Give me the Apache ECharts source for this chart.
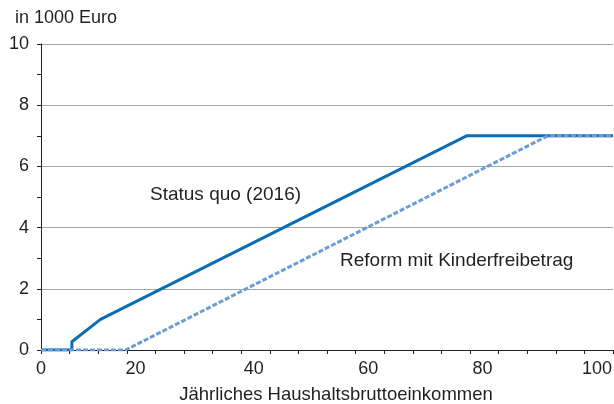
<!DOCTYPE html>
<html>
<head>
<meta charset="utf-8">
<script src="https://cdn.jsdelivr.net/npm/echarts@6/dist/echarts.min.js"></script>
<style>
  html, body { margin: 0; padding: 0; background: #fff; }
  #chart { width: 614px; height: 404px; }
</style>
</head>
<body>
<div id="chart"></div>
<script>
// income in 1000 Euro (x) vs. amount in 1000 Euro (y)
const statusQuo = [[0, 0], [5.4, 0], [5.4, 0.27], [10.4, 1.0], [74.4, 7.0], [100, 7.0]];
const reform = [[0, 0], [14.8, 0], [88.6, 7.0], [100, 7.0]];

const xTicks = [0, 20, 40, 60, 80, 100];
const yTicks = [0, 2, 4, 6, 8, 10];

const font = "'Liberation Sans', Arial, Helvetica, sans-serif";
const textColor = "#231f20";

const chart = echarts.init(document.getElementById("chart"));

const option = {
  animation: false,
  textStyle: { fontFamily: font, color: textColor },
  grid: {
    left: 41, right: 1, top: 44, bottom: 54,
    containLabel: false,
    outerBoundsMode: "none",
  },
  title: {
    text: "in 1000 Euro",
    left: 10,
    top: 4,
    textStyle: { fontFamily: font, fontSize: 18, fontWeight: "normal", color: textColor },
  },
  xAxis: {
    type: "value",
    min: xTicks[0],
    max: xTicks[xTicks.length - 1],
    interval: 20,
    name: "Jährliches Haushaltsbruttoeinkommen",
    nameLocation: "middle",
    nameGap: 35,
    nameTextStyle: { fontSize: 18.5, color: textColor, padding: [0, 0, 0, 18] },
    axisLine: { lineStyle: { color: "#231f20", width: 1 } },
    axisTick: { show: true, length: 4, lineStyle: { color: "#231f20" } },
    minorTick: { show: true, splitNumber: 4, length: 4, lineStyle: { color: "#231f20" } },
    splitLine: { show: false },
    axisLabel: {
      margin: 10,
      fontSize: 18,
      color: textColor,
      formatter: (v) => (v === 0 ? "{z|0}" : v === 20 ? "{t|20}" : "{s|" + v + "}"),
      rich: {
        z: { fontSize: 18, fontFamily: font, color: textColor },
        t: { fontSize: 18, fontFamily: font, color: textColor, padding: [0, 40, 0, 0] },
        s: { fontSize: 18, fontFamily: font, color: textColor, padding: [0, 32, 0, 0] },
      },
    },
  },
  yAxis: {
    type: "value",
    min: yTicks[0],
    max: yTicks[yTicks.length - 1],
    interval: 2,
    axisLine: { show: true, lineStyle: { color: "#231f20", width: 1 } },
    axisTick: { show: true, length: 4, lineStyle: { color: "#231f20" } },
    minorTick: { show: true, splitNumber: 2, length: 4, lineStyle: { color: "#231f20" } },
    splitLine: { show: true, lineStyle: { color: "#a6a6a6", width: 1 } },
    axisLabel: { margin: 12, fontSize: 18, color: textColor },
  },
  series: [
    {
      name: "Status quo (2016)",
      type: "line",
      data: statusQuo,
      symbol: "none",
      lineStyle: { color: "#0b6db5", width: 3 },
      z: 3,
    },
    {
      name: "Reform mit Kinderfreibetrag",
      type: "line",
      data: reform,
      symbol: "none",
      lineStyle: { color: "#6b9dd7", width: 3, type: [5, 2] },
      z: 4,
    },
  ],
  graphic: [
    {
      type: "text",
      left: 150,
      top: 185,
      style: { text: "Status quo (2016)", font: "19px " + font, fill: textColor },
    },
    {
      type: "text",
      left: 340,
      top: 251,
      style: { text: "Reform mit Kinderfreibetrag", font: "19px " + font, fill: textColor },
    },
  ],
};

chart.setOption(option);
</script>
</body>
</html>
